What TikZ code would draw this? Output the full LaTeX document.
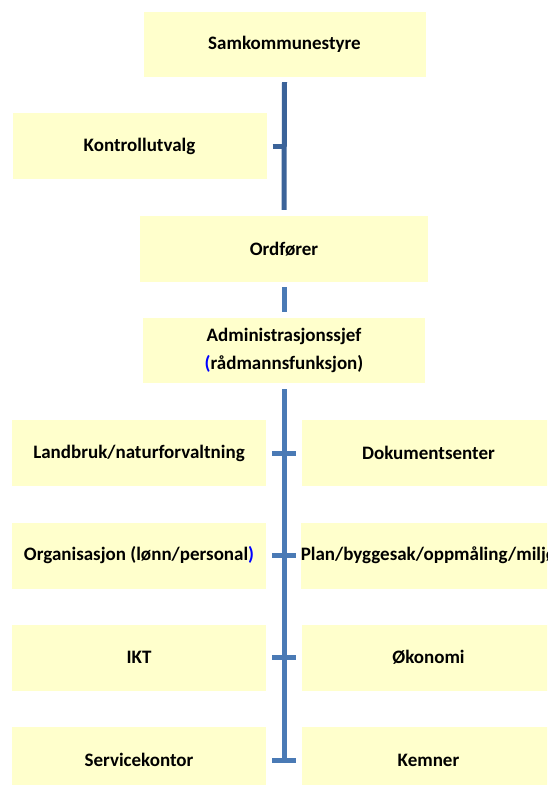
\documentclass[tikz,border=0pt]{standalone}
\usepackage{fontspec}
\setmainfont{Carlito}
\definecolor{boksgul}{RGB}{255,255,204}
\definecolor{linjemork}{RGB}{59,99,153}
\definecolor{linjeblaa}{RGB}{74,122,181}
\begin{document}
\begin{tikzpicture}[x=1pt,y=-1pt]
% Stiler
\tikzset{
  boks/.style={rectangle, fill=boksgul, inner sep=0pt, align=center, font=\fontsize{19}{28}\selectfont\bfseries},
  stor/.style={boks, minimum width=282pt, minimum height=65pt},
  enhet/.style={boks, minimum width=254pt, minimum height=66pt},
  stamme/.style={line width=5pt, draw=linjeblaa},
  kvist/.style={line width=5pt, draw=linjeblaa}
}
\useasboundingbox (0,0) rectangle (547,785);
\clip (0,0) rectangle (547,785);

% Ledelse
\node[stor] (samk) at (284.5,44.5) {Samkommunestyre};
\node[enhet] (kontroll) at (139.5,146) {Kontrollutvalg};
\node[stor, minimum width=288pt, minimum height=66pt] (ordf) at (284,249) {Ordfører};
\node[stor] (admin) at (284,350.5) {Administrasjonssjef\\\textcolor{blue}{(}rådmannsfunksjon)};

% Enheter venstre
\node[enhet] (land) at (139,453) {Landbruk/naturforvaltning};
\node[enhet] (org) at (139,555.5) {Organisasjon (lønn/personal\textcolor{blue}{)}};
\node[enhet] (ikt) at (139,657.5) {IKT};
\node[enhet] (serv) at (139,760) {Servicekontor};

% Enheter hoyre
\node[enhet] (dok) at (428.5,453) {Dokumentsenter};
\node[enhet] (plan) at (428.5,555.5) {Plan/byggesak/oppmåling/miljø};
\node[enhet] (oko) at (428.5,657.5) {Økonomi};
\node[enhet] (kem) at (428.5,760) {Kemner};

% Linjer
\draw[stamme, draw=linjemork] ([yshift=-5pt]samk.south) -- ([yshift=6pt]ordf.north);
\draw[kvist, draw=linjemork] ([xshift=6pt]kontroll.east) -- (kontroll.east -| samk.south);
\draw[stamme] ([yshift=-5pt]ordf.south) -- ([yshift=6pt]admin.north);
\draw[stamme] ([yshift=-6pt]admin.south) -- (serv.east -| admin.south);
\foreach \v/\h in {land/dok, org/plan, ikt/oko, serv/kem}
  \draw[kvist] ([xshift=6pt]\v.east) -- ([xshift=-5pt]\h.west);

\end{tikzpicture}
\end{document}
